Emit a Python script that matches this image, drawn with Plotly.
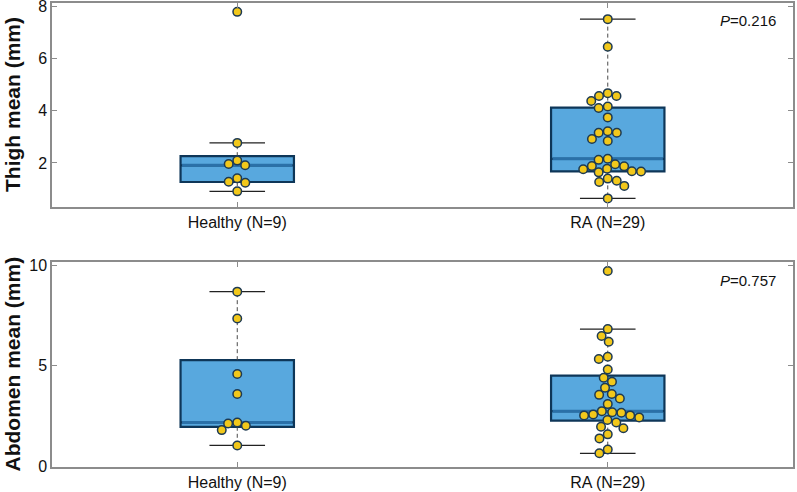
import math
import numpy as np
import plotly.graph_objects as go

# ---------------- data ----------------
groups = ["Healthy (N=9)", "RA (N=29)"]
thigh_healthy = [7.80, 2.77, 2.09, 1.91, 1.96, 1.41, 1.28, 1.24, 0.91]
thigh_ra = [7.52, 6.46, 4.68, 4.57, 4.57, 4.38, 4.11, 4.17, 3.75, 3.22, 3.16, 3.16,
            2.92, 2.84, 2.16, 2.12, 1.88, 1.95, 1.87, 1.68, 1.67, 1.64, 1.78, 1.76,
            1.32, 1.40, 1.12, 1.27, 0.64]
abd_healthy = [8.68, 7.35, 4.59, 3.60, 2.19, 2.14, 2.03, 1.81, 1.05]
abd_ra = [9.70, 6.82, 6.48, 6.19, 5.45, 5.34, 4.82, 4.41, 4.21, 3.91, 3.60, 3.56,
          3.38, 3.10, 2.75, 2.67, 2.70, 2.44, 2.54, 2.54, 2.59, 2.31, 2.19, 1.98,
          1.90, 1.40, 1.60, 0.85, 0.66]
p_thigh = "0.216"
p_abd = "0.757"
thigh_ticks = [2, 4, 6, 8]
abd_ticks = [0, 5, 10]

# ---------------- layout constants ----------------
W, H = 797, 492
ML, MR, MT, MB = 52, 4, 3, 25
PW = W - ML - MR
PH = H - MT - MB
TOP_DOM = [(467 - 207) / PH, 1.0]
BOT_DOM = [0.0, (467 - 262) / PH]
XR = [0.5, 2.5]
YR_TOP = [0.31, 8.14]
YR_BOT = [-0.02, 10.15]
BOX_W = 0.306
CAP_W = 0.15

FILL = "#58A8DE"
EDGE = "#0E3658"
MED = "#2A70A8"
PT_FILL = "#F2C81B"
PT_EDGE = "#1E3A52"
AXC = "#8C8C8C"
FONT = "Liberation Sans, Arial, sans-serif"


def mquantile(v, p):
    s = sorted(v)
    n = len(s)
    pos = n * p + 0.5
    pos = min(max(pos, 1), n)
    lo = int(math.floor(pos))
    hi = min(lo + 1, n)
    f = pos - lo
    return s[lo - 1] + f * (s[hi - 1] - s[lo - 1])


def stats(v):
    q1 = mquantile(v, 0.25)
    med = mquantile(v, 0.5)
    q3 = mquantile(v, 0.75)
    iqr = q3 - q1
    lo = min(x for x in v if x >= q1 - 1.5 * iqr)
    hi = max(x for x in v if x <= q3 + 1.5 * iqr)
    return q1, med, q3, lo, hi


def swarm(v, xppu, yppu, d=9.2):
    idx = sorted(range(len(v)), key=lambda i: -v[i])
    placed = []
    offs = [0.0] * len(v)
    for i in idx:
        y = v[i] * yppu
        cands = [0.0]
        for (px, py) in placed:
            dy = abs(y - py)
            if dy < d:
                dx = math.sqrt(d * d - dy * dy)
                cands += [px + dx, px - dx]
        cands.sort(key=lambda c: (abs(c), c))
        for c in cands:
            ok = all((c - px) ** 2 + (y - py) ** 2 >= d * d - 1e-6 for (px, py) in placed)
            if ok:
                placed.append((c, y))
                offs[i] = c / xppu
                break
    return offs


fig = go.Figure()

panels = [
    ("x", "y", [thigh_healthy, thigh_ra], YR_TOP, TOP_DOM),
    ("x2", "y2", [abd_healthy, abd_ra], YR_BOT, BOT_DOM),
]
xppu = PW / (XR[1] - XR[0])
for xa, ya, series, yr, dom in panels:
    yppu = PH * (dom[1] - dom[0]) / (yr[1] - yr[0])
    for gi, vals in enumerate(series):
        pos = gi + 1
        q1, med, q3, lo, hi = stats(vals)
        fig.add_trace(go.Box(x=[pos], q1=[q1], median=[med], q3=[q3],
                             lowerfence=[q1], upperfence=[q3], width=BOX_W,
                             fillcolor=FILL, line=dict(color=EDGE, width=2.2),
                             whiskerwidth=0, boxpoints=False, xaxis=xa, yaxis=ya,
                             showlegend=False, hoverinfo="skip"))
        # median
        fig.add_trace(go.Scatter(x=[pos - BOX_W / 2 + 0.004, pos + BOX_W / 2 - 0.004], y=[med, med],
                                 mode="lines", line=dict(color=MED, width=3),
                                 xaxis=xa, yaxis=ya, showlegend=False, hoverinfo="skip"))
        # whiskers
        for a, b in [(q3, hi), (q1, lo)]:
            fig.add_trace(go.Scatter(x=[pos, pos], y=[a, b], mode="lines",
                                     line=dict(color="#4a4a4a", width=1, dash="4px,3px"),
                                     xaxis=xa, yaxis=ya, showlegend=False, hoverinfo="skip"))
        for c in (lo, hi):
            fig.add_trace(go.Scatter(x=[pos - CAP_W / 2, pos + CAP_W / 2], y=[c, c], mode="lines",
                                     line=dict(color="#222222", width=1.2),
                                     xaxis=xa, yaxis=ya, showlegend=False, hoverinfo="skip"))
        offs = swarm(vals, xppu, yppu)
        fig.add_trace(go.Scatter(x=[pos + o for o in offs], y=vals, mode="markers",
                                 marker=dict(size=8.5, color=PT_FILL,
                                             line=dict(color=PT_EDGE, width=1.5)),
                                 xaxis=xa, yaxis=ya, showlegend=False, hoverinfo="skip"))

axis_common = dict(showline=True, linecolor=AXC, linewidth=1.5, mirror="ticks",
                   ticks="inside", ticklen=5, tickcolor=AXC, showgrid=False, zeroline=False,
                   automargin=False, ticklabeloverflow="allow",
                   tickfont=dict(family=FONT, size=16, color="#111111"))

fig.update_layout(
    width=W, height=H, margin=dict(l=ML, r=MR, t=MT, b=MB, autoexpand=False),
    paper_bgcolor="white", plot_bgcolor="white",
    xaxis=dict(domain=[0, 1], range=XR, tickvals=[1, 2], ticktext=groups, anchor="y", **axis_common),
    yaxis=dict(domain=TOP_DOM, range=YR_TOP, tickvals=thigh_ticks, anchor="x", **axis_common),
    xaxis2=dict(domain=[0, 1], range=XR, tickvals=[1, 2], ticktext=groups, anchor="y2", **axis_common),
    yaxis2=dict(domain=BOT_DOM, range=YR_BOT, tickvals=abd_ticks, anchor="x2", **axis_common),
    annotations=[
        dict(text="<i>P</i>=" + p_thigh, xref="x domain", yref="y domain", x=0.98, y=0.912,
             xanchor="right", yanchor="middle", showarrow=False,
             font=dict(family=FONT, size=15, color="#111111")),
        dict(text="<i>P</i>=" + p_abd, xref="x2 domain", yref="y2 domain", x=0.98, y=0.912,
             xanchor="right", yanchor="middle", showarrow=False,
             font=dict(family=FONT, size=15, color="#111111")),
        dict(text="<b>Thigh mean (mm)</b>", xref="paper", yref="y domain", x=(12 - ML) / PW, y=0.5,
             xanchor="center", yanchor="middle", textangle=-90, showarrow=False,
             font=dict(family=FONT, size=21, color="#111111")),
        dict(text="<b>Abdomen mean (mm)</b>", xref="paper", yref="y2 domain", x=(12 - ML) / PW, y=0.5,
             xanchor="center", yanchor="middle", textangle=-90, showarrow=False,
             font=dict(family=FONT, size=21, color="#111111")),
    ],
)

fig.write_html("out.html", config={"displayModeBar": False},
               post_script="document.body.style.margin='0';document.body.style.padding='0';")
